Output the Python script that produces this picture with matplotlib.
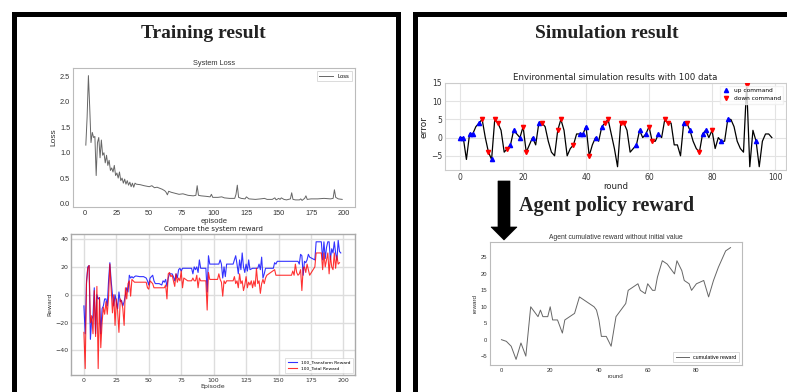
import matplotlib
matplotlib.use("Agg")
from matplotlib import pyplot as plt
from matplotlib.lines import Line2D
from matplotlib.patches import Polygon

# ---- data ----
loss_ep = [1, 2, 3, 4, 5, 6, 7, 8, 9, 10, 11, 12, 13, 14, 15, 16, 17, 18, 19, 20,
           21, 22, 23, 24, 25, 26, 27, 28, 29, 30, 31, 32, 33, 34, 35, 36, 37, 38, 39, 40,
           43, 46, 50, 52, 54, 56, 58, 60, 62, 63, 64, 65, 67, 70, 73, 76, 80, 84, 86, 87,
           88, 90, 94, 97, 98, 99, 103, 106, 108, 112, 116, 117, 118, 119, 121, 124, 125, 127,
           132, 136, 139, 141, 145, 147, 148, 150, 151, 152, 154, 156, 159, 160, 161, 163,
           166, 167, 168, 170, 171, 172, 175, 180, 185, 190, 192, 193, 194, 196, 199]
loss = [1.15, 1.7, 2.52, 1.9, 1.2, 1.4, 1.3, 1.32, 0.55, 1.2, 1.3, 0.9, 1.25, 0.95, 1.0,
        0.8, 0.95, 0.75, 0.85, 0.65, 0.7, 0.62, 0.75, 0.55, 0.6, 0.5, 0.62, 0.45, 0.5, 0.4,
        0.48, 0.38, 0.45, 0.36, 0.42, 0.33, 0.4, 0.32, 0.4, 0.38, 0.37, 0.35, 0.33, 0.35,
        0.31, 0.32, 0.3, 0.28, 0.25, 0.22, 0.17, 0.24, 0.22, 0.2, 0.18, 0.19, 0.16, 0.15,
        0.16, 0.35, 0.16, 0.15, 0.14, 0.13, 0.18, 0.12, 0.12, 0.13, 0.11, 0.1, 0.1, 0.18,
        0.36, 0.12, 0.1, 0.09, 0.13, 0.09, 0.08, 0.09, 0.1, 0.08, 0.08, 0.11, 0.07, 0.1,
        0.08, 0.11, 0.08, 0.07, 0.09, 0.21, 0.08, 0.07, 0.07, 0.09, 0.06, 0.1, 0.15, 0.08,
        0.09, 0.09, 0.1, 0.09, 0.1, 0.27, 0.12, 0.09, 0.08]

# blue: 100_Transform Reward
tr_ep = [0, 1, 2, 3, 4, 5, 6, 7, 8, 9,
         10, 11, 12, 13, 14, 15, 16, 17, 18, 19,
         20, 21, 22, 23, 24, 25, 26, 27, 28, 29,
         30, 31, 32, 33, 34, 35, 36, 37, 38, 39,
         40, 43, 46, 48, 49, 50, 51, 52, 53, 54,
         55, 58, 60, 61, 62, 63, 64, 65, 66, 68,
         69, 70, 71, 72, 73, 74, 75, 76, 77, 80,
         83, 84, 85, 86, 87, 88, 89, 90, 94, 95,
         96, 97, 100, 104, 105, 106, 107, 108, 109, 110,
         115, 116, 117, 118, 119, 120, 121, 122, 123, 124,
         125, 126, 127, 128, 130, 131, 132, 133, 134, 135,
         136, 137, 138, 139, 140, 146, 147, 148, 149, 155,
         160, 165, 166, 167, 168, 169, 170, 171, 172, 173,
         174, 178, 179, 183, 184, 185, 186, 187, 188, 189,
         190, 191, 192, 193, 194, 195, 196, 197, 198]
transform_reward = [-8, -28, 10, 20, 21, -32, -18, -15, 5, -28,
                    0, -3, -2, -28, -10, -8, -3, -3, -8, 10,
                    23, 10, 0, -8, 0, -5, -10, 2, -5, -4,
                    -8, -5, 0, 5, 2, 14, 12, 13, 12, 13,
                    13.5, 13, 13, 12, 10, 7, 12, 13, 14, 10,
                    8, 8, 7, 10, 9, 11, 6, 12, 15, 15,
                    13, 10, 15, 12, 18, 19, 17, 19, 19, 19,
                    19, 15, 20, 18, 20, 16, 25, 19, 19, 2,
                    28, 22, 22, 22, 25, 22, 12, 20, 13, 22,
                    22, 25, 28, 22, 15, 25, 18, 30, 20, 16,
                    22, 17, 25, 18, 19, 19, 19, 19, 19, 22,
                    18, 27, 12, 15, 19, 19, 23, 22, 24, 24,
                    24, 24, 22, 29, 28, 14, 24, 23, 25, 29,
                    27, 25, 38, 38, 25, 38, 26, 34, 38, 38,
                    25, 33, 30, 38, 30, 25, 39, 31, 30]

# red: 100_Total Reward
to_ep = [0, 1, 2, 3, 4, 5, 6, 7, 8, 9,
         10, 11, 12, 13, 14, 15, 16, 17, 18, 19,
         20, 21, 22, 23, 24, 25, 26, 27, 28, 29,
         30, 31, 32, 33, 34, 35, 36, 37, 38, 39,
         40, 45, 48, 49, 50, 51, 52, 53, 54, 55,
         60, 62, 63, 64, 65, 66, 67, 68, 69, 70,
         71, 72, 73, 74, 75, 76, 77, 80, 83, 84,
         85, 86, 87, 88, 89, 90, 94, 95, 96, 97,
         100, 103, 104, 105, 106, 107, 108, 109, 110, 115,
         116, 117, 118, 119, 120, 121, 122, 123, 124, 125,
         126, 127, 128, 129, 130, 131, 132, 133, 134, 135,
         136, 137, 138, 139, 140, 141, 147, 148, 149, 160,
         161, 162, 163, 164, 165, 166, 167, 168, 169, 170,
         171, 172, 173, 174, 178, 179, 183, 184, 185, 186,
         187, 188, 189, 190, 191, 192, 193, 194, 195, 196, 197]
total_reward = [-27, -53, 8, 19, 21, -20, -15, -28, 3, -30,
                6, -53, -2, -38, -20, -9, -14, -5, -14, -2,
                22, 5, -13, 0, -22, -3, -12, -27, -3, -5,
                -10, -22, 5, -3, 8, 10, -1, 11, 10, 9,
                9, 9, 9, 5, 4, 10, 9, 8, 5, 5,
                5, 5, 7, -3, 15, 16, 13, 14, 10, 6,
                15, 9, 12, 10, 17, 5, 12, 10, 10, 12,
                10, 10, 14, 5, 12, 10, 10, -11, 16, 11,
                11, 11, 15, 11, 9, -1, 10, 8, 10, 10,
                13, 8, 10, 5, 15, 8, 10, 3, 7, 13,
                5, 9, 7, 10, 5, 10, 6, 19, 8, 10,
                1, 8, 11, 8, 12, 14, 18, 14, 14, 14,
                17, 14, 22, 16, 14, 15, 18, 3, 19, 20,
                16, 22, 18, 14, 20, 30, 30, 18, 30, 20,
                25, 30, 15, 28, 20, 18, 30, 19, 28, 22, 23]

rounds = list(range(100))
error = [0, 0, -6, 1, 1, 3, 4, 5, 0, -4, -6, 5, 4, 2, -4, -3, -2, 2, 1, 0,
         3, -4, -2, 0, -2, 4, 4, 3, -1, -4, -5, 2, 5, 2, -5, -3, -2, 1, 1, 1,
         3, -5, -2, 0, -1, 3, 4, 5, 1, -3, -8, 4, 4, 2, -4, -3, -2, 2, 0, 1,
         3, -1, -1, 1, 0, 5, 4, 4, -2, -2, -5, 4, 4, 2, -1, -3, -4, 1, 2, 0,
         2, -3, 0, -1, -1, 5, 5, 3, -1, -3, -4, 14.5, -8, 2, -1, -8, -1, 1, 1, 0]
up_rounds = [0, 1, 3, 4, 6, 10, 16, 17, 19, 23, 25, 38, 39, 40, 43, 45, 56, 57, 59, 63,
             71, 73, 77, 78, 83, 85, 94]
down_rounds = [7, 9, 11, 12, 15, 20, 21, 26, 31, 32, 36, 41, 46, 47, 51, 52, 60, 61, 65, 66,
               72, 76, 80, 91]

cum_round = [0, 2, 4, 6, 8, 10, 12, 14, 15, 16, 17, 19, 20, 21, 23, 25, 26, 28, 30, 32,
             34, 36, 38, 39, 40, 41, 43, 45, 47, 49, 51, 52, 54, 56, 57, 59, 60, 62, 63, 64,
             66, 68, 70, 71, 72, 74, 75, 77, 78, 80, 83, 85, 87, 89, 92, 94]
cum_reward = [0, -0.5, -2, -6, -1, -5, 10, 8, 7, 9, 7, 7, 10, 6, 6, 2, 6, 7, 8, 13,
              12, 11, 10, 9, 6, 1, 1, -2, 7, 9, 11, 15, 16, 17, 15, 14, 17, 15, 15, 19,
              24, 23, 21, 20, 24, 21, 18, 17, 15, 17, 18, 13, 18, 22, 27, 28]

W, H = 787, 392


def fx(x):
    return x / W


def fy(y):
    return 1 - y / H


def box(l, t, r, b):
    return [fx(l), fy(b), fx(r) - fx(l), fy(t) - fy(b)]


fig = plt.figure(figsize=(7.87, 3.92), dpi=100)

# black frames around the two panels
frame = dict(color="black", lw=3.6, solid_capstyle="projecting", solid_joinstyle="miter")
fig.add_artist(Line2D([fx(14.5), fx(14.5), fx(397.5), fx(397.5)],
                      [fy(400), fy(13.5), fy(13.5), fy(400)], transform=fig.transFigure, **frame))
fig.add_artist(Line2D([fx(415.5), fx(415.5), fx(800)],
                      [fy(400), fy(13.5), fy(13.5)], transform=fig.transFigure, **frame))

serif = ["Liberation Serif", "DejaVu Serif"]
fig.text(fx(203), fy(33), "Training result", family=serif, weight="bold", size=14,
         ha="center", va="center", color="#222222")
fig.text(fx(607), fy(33), "Simulation result", family=serif, weight="bold", size=14,
         ha="center", va="center", color="#222222")
fig.text(fx(607), fy(206), "Agent policy reward", family=serif, weight="bold", size=14.5,
         ha="center", va="center", color="#222222")

# arrow down
fig.add_artist(Polygon([[fx(498), fy(181)], [fx(510), fy(181)], [fx(510), fy(227)],
                        [fx(517), fy(227)], [fx(504), fy(240)], [fx(491), fy(227)],
                        [fx(498), fy(227)]], closed=True, transform=fig.transFigure,
                       facecolor="black", edgecolor="black", lw=0.5))

sans = ["Liberation Sans", "DejaVu Sans"]
spine_gray = "#bbbbbb"

# ---- System Loss ----
ax = fig.add_axes(box(73, 68, 355, 207))
ax.plot(loss_ep, loss, color="#666666", lw=0.7, label="Loss")
ax.set_xlim(-8.9, 208.9)
ax.set_ylim(-0.07, 2.67)
ax.set_xticks([0, 25, 50, 75, 100, 125, 150, 175, 200])
ax.set_yticks([0.0, 0.5, 1.0, 1.5, 2.0, 2.5])
ax.tick_params(length=0, labelsize=5.3, colors="#333333", pad=2)
for lab in ax.get_xticklabels() + ax.get_yticklabels():
    lab.set_family(sans)
for s in ax.spines.values():
    s.set_color(spine_gray)
    s.set_linewidth(0.8)
ax.set_title("System Loss", family=sans, size=5.3, color="#333333", pad=2)
ax.set_xlabel("episode", family=sans, size=5.5, color="#333333", labelpad=1)
ax.set_ylabel("Loss", family=sans, size=6, color="#333333", labelpad=2)
lg = ax.legend(loc="upper right", prop={"family": sans, "size": 4}, frameon=True,
               fancybox=False, handlelength=2.5, borderpad=0.5)
lg.get_frame().set_edgecolor("#cccccc")
lg.get_frame().set_linewidth(0.6)

# ---- Compare the system reward ----
ax = fig.add_axes(box(71, 234, 355, 375))
ax.plot(tr_ep, transform_reward, color="blue", lw=0.8, alpha=0.8, label="100_Transform Reward")
ax.plot(to_ep, total_reward, color="red", lw=0.8, alpha=0.8, label="100_Total Reward")
ax.set_xlim(-9.95, 208.95)
ax.set_ylim(-57.6, 43.6)
ax.set_xticks([0, 25, 50, 75, 100, 125, 150, 175, 200])
ax.set_yticks([-40, -20, 0, 20, 40])
ax.grid(True, color="#dddddd", lw=1.0)
ax.set_axisbelow(True)
ax.tick_params(length=0, labelsize=4.5, colors="#333333", pad=2)
for s in ax.spines.values():
    s.set_color("#aaaaaa")
    s.set_linewidth(1.0)
ax.set_title("Compare the system reward", size=5, color="#222222", pad=2)
ax.set_xlabel("Episode", size=4.5, color="#333333", labelpad=1)
ax.set_ylabel("Reward", size=4.5, color="#333333", labelpad=2)
lg = ax.legend(loc="lower right", fontsize=3.2, frameon=True, fancybox=False,
               handlelength=2.2, borderpad=0.5)
lg.get_frame().set_edgecolor("#cccccc")
lg.get_frame().set_linewidth(0.5)

# ---- Environmental simulation ----
ax = fig.add_axes(box(445, 83, 786, 170))
ax.plot(rounds, error, color="black", lw=0.9, zorder=2)
ax.plot(up_rounds, [error[r] for r in up_rounds], "^", color="blue", ms=3,
        ls="none", label="up command", zorder=3)
ax.plot(down_rounds, [error[r] for r in down_rounds], "v", color="red", ms=3,
        ls="none", label="down command", zorder=3)
ax.set_xlim(-4.8, 103.5)
ax.set_ylim(-8.9, 15.0)
ax.set_xticks([0, 20, 40, 60, 80, 100])
ax.set_yticks([-5, 0, 5, 10, 15])
ax.grid(True, color="#e3e3e3", lw=0.8)
ax.set_axisbelow(True)
ax.tick_params(length=0, labelsize=5.5, colors="#333333", pad=2)
for s in ax.spines.values():
    s.set_color("#cccccc")
    s.set_linewidth(0.8)
ax.set_title("Environmental simulation results with 100 data", size=6.2, color="#222222", pad=2)
ax.set_xlabel("round", size=6.2, color="#222222", labelpad=0)
ax.set_ylabel("error", size=6.5, color="#222222", labelpad=2)
lg = ax.legend(loc="upper right", fontsize=4.2, frameon=True, fancybox=False,
               handlelength=1.2, borderpad=0.4, framealpha=0.8)
lg.get_frame().set_edgecolor("#eeeeee")

# ---- Agent cumulative reward ----
ax = fig.add_axes(box(490, 242, 742, 365))
ax.plot(cum_round, cum_reward, color="#666666", lw=0.7, label="cumulative reward")
ax.set_xlim(-4.7, 98.7)
ax.set_ylim(-7.7, 29.7)
ax.set_xticks([0, 20, 40, 60, 80])
ax.set_yticks([-5, 0, 5, 10, 15, 20, 25])
ax.tick_params(length=0, labelsize=4.2, colors="#333333", pad=2)
for lab in ax.get_xticklabels() + ax.get_yticklabels():
    lab.set_family(sans)
for s in ax.spines.values():
    s.set_color(spine_gray)
    s.set_linewidth(0.8)
ax.set_title("Agent cumulative reward without initial value", family=sans, size=4.9,
             color="#333333", pad=2)
ax.set_xlabel("round", family=sans, size=4.5, color="#333333", labelpad=1)
ax.set_ylabel("reward", family=sans, size=4.5, color="#333333", labelpad=2)
lg = ax.legend(loc="lower right", prop={"family": sans, "size": 3.8}, frameon=True,
               fancybox=False, handlelength=2.5, borderpad=0.5)
lg.get_frame().set_edgecolor("#cccccc")
lg.get_frame().set_linewidth(0.6)

fig.savefig("out.png", dpi=100)
